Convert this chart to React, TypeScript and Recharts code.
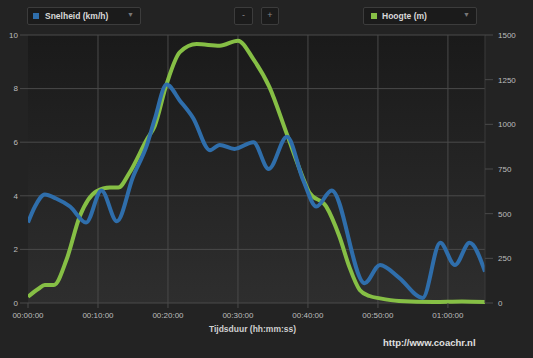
import React from "react";
import {
  ComposedChart,
  Line,
  XAxis,
  YAxis,
  CartesianGrid,
} from "recharts";

// time in minutes
const speedTimes = [0, 1, 2.4, 4, 6, 8.3, 10.5, 12.7, 15, 17, 18.1, 19.8, 21.7, 23.6, 26, 27.4, 29.5, 32.2, 34.4, 37, 39.3, 41.2, 43.4, 48.1, 50.3, 53, 56.4, 58.9, 61, 63.1, 65.3];
const speedValues = [3.0, 3.6, 4.05, 3.9, 3.6, 3.0, 4.2, 3.05, 4.7, 5.9, 6.85, 8.15, 7.55, 6.9, 5.7, 5.9, 5.75, 6.0, 5.0, 6.2, 4.6, 3.6, 4.2, 0.74, 1.42, 0.95, 0.19, 2.25, 1.42, 2.25, 1.17];

const heightTimes = [0, 1.5, 2.4, 3.7, 5.5, 7.4, 9.8, 11.7, 12.9, 14.5, 17, 18.1, 19.8, 21.7, 24.1, 27.4, 30, 32.2, 34.5, 36.9, 39.2, 40.2, 42.6, 44.5, 45.9, 47.4, 48.8, 50.3, 53, 58, 62, 65.3];
const heightValues = [35, 80, 101, 101, 242, 485, 625, 646, 646, 729, 916, 990, 1225, 1404, 1449, 1440, 1468, 1365, 1208, 955, 710, 618, 541, 372, 204, 73, 39, 26, 11, 5, 8, 5];

const xTicks = [0, 10, 20, 30, 40, 50, 60];
const leftTicks = [0, 2, 4, 6, 8, 10];
const rightTicks = [0, 250, 500, 750, 1000, 1250, 1500];

const speedLabel = "Snelheid (km/h)";
const heightLabel = "Hoogte (m)";
const xTitle = "Tijdsduur (hh:mm:ss)";
const credit = "http://www.coachr.nl";

const speedData = speedTimes.map((t, i) => ({ t, v: speedValues[i] }));
const heightData = heightTimes.map((t, i) => ({ t, h: heightValues[i] }));

const pad = (n: number) => String(n).padStart(2, "0");
const fmtTime = (m: number) => {
  const h = Math.floor(m / 60);
  const mm = Math.floor(m % 60);
  return `${pad(h)}:${pad(mm)}:00`;
};

const FONT = "'Liberation Sans', Arial, sans-serif";
const GRID = "#4a4a4a";
const BLUE = "#2f6eab";
const GREEN = "#86bf45";

const boxStyle: React.CSSProperties = {
  position: "absolute",
  top: 7,
  height: 18,
  background: "#1b1b1b",
  border: "1px solid #3c3c3c",
  borderRadius: 2,
  boxSizing: "border-box",
};

export default function App() {
  return (
    <div
      style={{
        position: "absolute",
        left: 0,
        top: 0,
        width: 533,
        height: 358,
        background: "#232323",
        fontFamily: FONT,
        overflow: "hidden",
      }}
    >
      <ComposedChart
        width={533}
        height={358}
        margin={{ top: 35, right: 0, bottom: 35, left: 0 }}
      >
        <defs>
          <linearGradient id="plotBg" x1="0" y1="0" x2="0" y2="1">
            <stop offset="0%" stopColor="#1a1a1a" />
            <stop offset="100%" stopColor="#2e2e2e" />
          </linearGradient>
        </defs>
        <CartesianGrid
          yAxisId="left"
          stroke={GRID}
          strokeWidth={1}
          fill="url(#plotBg)"
          horizontalValues={leftTicks}
          verticalValues={xTicks}
        />
        <XAxis
          dataKey="t"
          type="number"
          domain={[0, 65.3]}
          ticks={xTicks}
          allowDataOverflow
          tickFormatter={fmtTime}
          height={20}
          axisLine={false}
          tickSize={5}
          tickMargin={4}
          tickLine={{ stroke: GRID }}
          tick={{ fill: "#bdbdbd", fontSize: 8, fontFamily: FONT }}
        />
        <YAxis
          yAxisId="left"
          orientation="left"
          width={28}
          domain={[0, 10]}
          ticks={leftTicks}
          axisLine={false}
          tickSize={8}
          tickMargin={2}
          tickLine={{ stroke: GRID }}
          tick={{ fill: "#bdbdbd", fontSize: 8, fontFamily: FONT }}
        />
        <YAxis
          yAxisId="right"
          orientation="right"
          width={48}
          domain={[0, 1500]}
          ticks={rightTicks}
          axisLine={{ stroke: "#3a3a3a" }}
          tickSize={8}
          tickMargin={5}
          tickLine={{ stroke: GRID }}
          tick={{ fill: "#bdbdbd", fontSize: 8, fontFamily: FONT }}
        />
        <Line
          yAxisId="right"
          data={heightData}
          dataKey="h"
          type="monotone"
          stroke={GREEN}
          strokeWidth={4}
          dot={false}
          activeDot={false}
          isAnimationActive={false}
        />
        <Line
          yAxisId="left"
          data={speedData}
          dataKey="v"
          type="monotone"
          stroke={BLUE}
          strokeWidth={4}
          dot={false}
          activeDot={false}
          isAnimationActive={false}
        />
      </ComposedChart>

      {/* header controls */}
      <div style={{ ...boxStyle, left: 27, width: 114 }}>
        <div style={{ position: "absolute", left: 5, top: 5, width: 6, height: 6, background: BLUE }} />
        <div style={{ position: "absolute", left: 17, top: 3, fontSize: 8.5, fontWeight: "bold", color: "#d8d8d8", whiteSpace: "nowrap" }}>
          {speedLabel}
        </div>
        <div style={{ position: "absolute", right: 6, top: 3, fontSize: 7, color: "#777" }}>▼</div>
      </div>
      <div style={{ ...boxStyle, left: 234, width: 19, textAlign: "center", color: "#888", fontSize: 9, lineHeight: "15px" }}>-</div>
      <div style={{ ...boxStyle, left: 261, width: 18, textAlign: "center", color: "#888", fontSize: 9, lineHeight: "15px" }}>+</div>
      <div style={{ ...boxStyle, left: 363, width: 114 }}>
        <div style={{ position: "absolute", left: 7, top: 5, width: 6, height: 6, background: GREEN }} />
        <div style={{ position: "absolute", left: 18, top: 3, fontSize: 8.5, fontWeight: "bold", color: "#d8d8d8", whiteSpace: "nowrap" }}>
          {heightLabel}
        </div>
        <div style={{ position: "absolute", right: 6, top: 3, fontSize: 7, color: "#777" }}>▼</div>
      </div>

      {/* axis title */}
      <div style={{ position: "absolute", left: 0, width: 505, top: 324, textAlign: "center", fontSize: 8.5, fontWeight: "bold", color: "#d0d0d0" }}>
        {xTitle}
      </div>
      {/* credit */}
      <div style={{ position: "absolute", left: 383, top: 337, fontSize: 9.5, fontWeight: "bold", color: "#e0e0e0", whiteSpace: "nowrap" }}>
        {credit}
      </div>
    </div>
  );
}
